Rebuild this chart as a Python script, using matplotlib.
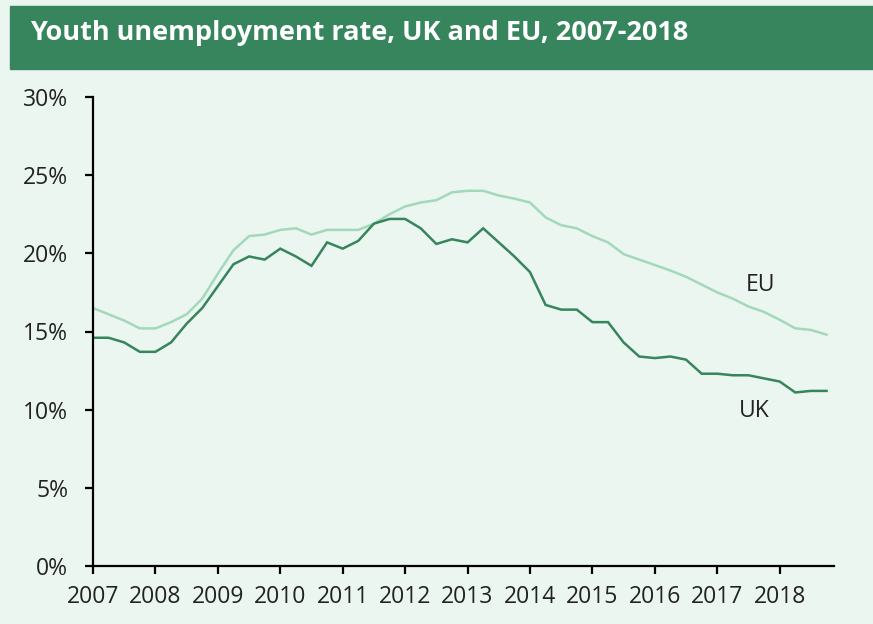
import matplotlib
matplotlib.use("Agg")
import matplotlib.pyplot as plt
from matplotlib.patches import Rectangle
import numpy as np

# Quarterly data, 2007 Q1 - 2018 Q4
start_year = 2007
uk = [14.6, 14.6, 14.3, 13.7, 13.7, 14.3, 15.5, 16.5, 17.9, 19.3, 19.8, 19.6,
      20.3, 19.8, 19.2, 20.7, 20.3, 20.8, 21.9, 22.2, 22.2, 21.6, 20.6, 20.9,
      20.7, 21.6, 20.7, 19.8, 18.8, 16.7, 16.4, 16.4, 15.6, 15.6, 14.3, 13.4,
      13.3, 13.4, 13.2, 12.3, 12.3, 12.2, 12.2, 12.0, 11.8, 11.1, 11.2, 11.2]
eu = [16.5, 16.1, 15.7, 15.2, 15.2, 15.6, 16.1, 17.1, 18.7, 20.2, 21.1, 21.2,
      21.5, 21.6, 21.2, 21.5, 21.5, 21.5, 21.9, 22.5, 23.0, 23.25, 23.4, 23.9,
      24.0, 24.0, 23.7, 23.5, 23.25, 22.3, 21.8, 21.6, 21.1, 20.7, 19.95, 19.6,
      19.25, 18.9, 18.5, 18.0, 17.5, 17.1, 16.6, 16.25, 15.75, 15.2, 15.1, 14.8]
year_ticks = list(range(2007, 2019))
y_ticks = [0, 5, 10, 15, 20, 25, 30]
title = "Youth unemployment rate, UK and EU, 2007-2018"

x = start_year + np.arange(len(uk)) * 0.25

bg = "#ecf6f0"
dark = "#36855c"
light = "#a2d9bb"
txt = "#222222"

fig = plt.figure(figsize=(8.73, 6.24), dpi=100, facecolor=bg)
fig.patches.append(Rectangle((10/873, 1-69/624), 1-10/873, 63/624,
                             transform=fig.transFigure, color=dark, zorder=0))
fig.text(30/873, 1-33/624, title, color="white", fontsize=19.5,
         fontweight="bold", family="Open Sans", va="center", ha="left")

ax = fig.add_axes([93/873, 1-566/624, (834-93)/873, (566-97)/624])
ax.set_facecolor(bg)
ax.plot(x, eu, color=light, lw=1.8, solid_joinstyle="miter")
ax.plot(x, uk, color=dark, lw=1.8, solid_joinstyle="miter")

ax.set_xlim(2007, 2018.87)
ax.set_ylim(0, 30)
ax.set_xticks(year_ticks)
ax.set_xticklabels([str(y) for y in year_ticks])
ax.set_yticks(y_ticks)
ax.set_yticklabels([f"{v}%" for v in y_ticks])
for s in ["top", "right"]:
    ax.spines[s].set_visible(False)
for s in ["left", "bottom"]:
    ax.spines[s].set_linewidth(1.6)
    ax.spines[s].set_color("black")
ax.tick_params(axis="both", length=6, width=1.6, color="black",
               labelsize=16.5, labelcolor=txt)
ax.tick_params(axis="y", pad=12)
ax.tick_params(axis="x", pad=8)
for lab in ax.get_xticklabels() + ax.get_yticklabels():
    lab.set_family("Open Sans")

ax.text(2017.70, 18.0, "EU", fontsize=16.5, color=txt, family="Open Sans",
        ha="center", va="center")
ax.text(2017.59, 9.9, "UK", fontsize=16.5, color=txt, family="Open Sans",
        ha="center", va="center")

fig.savefig("out.png", dpi=100, facecolor=bg)
